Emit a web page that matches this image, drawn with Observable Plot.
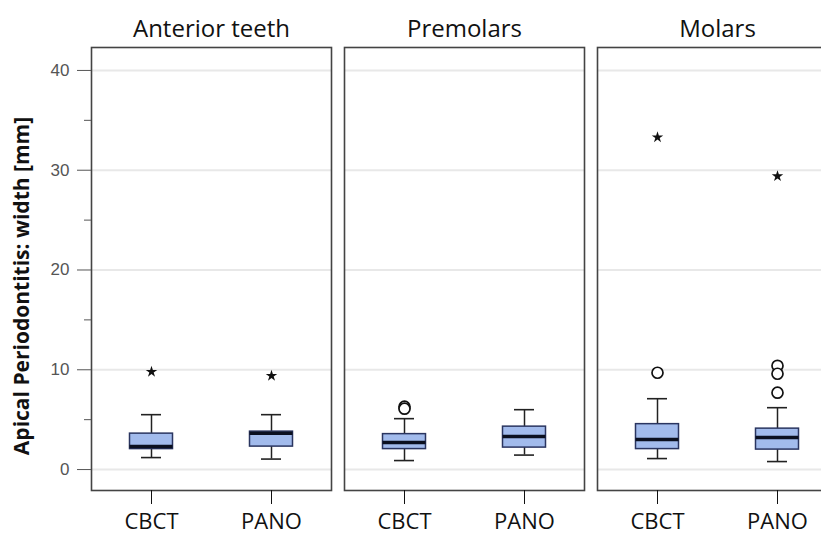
<!DOCTYPE html>
<html>
<head>
<meta charset="utf-8">
<script src="https://cdn.jsdelivr.net/npm/d3@7"></script>
<script src="https://cdn.jsdelivr.net/npm/@observablehq/plot@0.6"></script>
<style>
  html, body { margin: 0; padding: 0; background: #fff; overflow: hidden; }
  #chart { width: 821px; height: 537px; overflow: hidden; }
  #chart svg { max-width: none !important; }
</style>
</head>
<body>
<div id="chart"></div>
<script>
const groups = ["Anterior teeth", "Premolars", "Molars"];
const methods = ["CBCT", "PANO"];

// box statistics, one entry per group × method
const boxGroup  = ["Anterior teeth", "Anterior teeth", "Premolars", "Premolars", "Molars", "Molars"];
const boxMethod = ["CBCT", "PANO", "CBCT", "PANO", "CBCT", "PANO"];
const whiskerLow  = [1.2, 1.05, 0.9, 1.45, 1.1, 0.8];
const q1          = [2.05, 2.3, 2.05, 2.2, 2.05, 2.0];
const median      = [2.3, 3.65, 2.7, 3.3, 3.0, 3.2];
const q3          = [3.6, 3.8, 3.55, 4.3, 4.55, 4.1];
const whiskerHigh = [5.5, 5.5, 5.1, 6.0, 7.1, 6.2];

// outliers (circles) and extreme values (stars)
const circleGroup  = ["Premolars", "Premolars", "Molars", "Molars", "Molars", "Molars"];
const circleMethod = ["CBCT", "CBCT", "CBCT", "PANO", "PANO", "PANO"];
const circleValue  = [6.3, 6.1, 9.7, 10.4, 9.6, 7.7];
const starGroup  = ["Anterior teeth", "Anterior teeth", "Molars", "Molars"];
const starMethod = ["CBCT", "PANO", "CBCT", "PANO"];
const starValue  = [9.8, 9.4, 33.3, 29.4];

const yTicks = [0, 10, 20, 30, 40];
const yMinorTicks = [5, 15, 25, 35];
const yLabel = "Apical Periodontitis: width [mm]";

const boxes = boxGroup.map((g, i) => ({
  group: g, method: boxMethod[i],
  lo: whiskerLow[i], q1: q1[i], med: median[i], q3: q3[i], hi: whiskerHigh[i]
}));
const circles = circleGroup.map((g, i) => ({group: g, method: circleMethod[i], value: circleValue[i]}));
const stars = starGroup.map((g, i) => ({group: g, method: starMethod[i], value: starValue[i]}));

const boxInset = 38.5;
const capInset = 50;
const titleFont = "'Open Sans', 'Noto Sans', sans-serif";

const chart = Plot.plot({
  width: 840,
  height: 537,
  marginLeft: 91,
  marginRight: 3,
  marginTop: 47,
  marginBottom: 47,
  style: {fontFamily: titleFont, background: "white", maxWidth: "none"},
  fx: {domain: groups, paddingInner: 0.0514, paddingOuter: 0},
  x: {domain: methods, padding: 0},
  y: {domain: [-2.1, 42.3]},
  marks: [
    Plot.ruleY(yTicks, {stroke: "#e8e8e8", strokeWidth: 2}),
    Plot.ruleX(boxes, {fx: "group", x: "method", y1: "lo", y2: "q1", stroke: "#222", strokeWidth: 1.5}),
    Plot.ruleX(boxes, {fx: "group", x: "method", y1: "q3", y2: "hi", stroke: "#222", strokeWidth: 1.5}),
    Plot.tickY(boxes, {fx: "group", x: "method", y: "lo", stroke: "#222", strokeWidth: 1.6, insetLeft: capInset, insetRight: capInset}),
    Plot.tickY(boxes, {fx: "group", x: "method", y: "hi", stroke: "#222", strokeWidth: 1.6, insetLeft: capInset, insetRight: capInset}),
    Plot.barY(boxes, {fx: "group", x: "method", y1: "q1", y2: "q3", fill: "#a2bbec", stroke: "#2a3560", strokeWidth: 1.5, insetLeft: boxInset, insetRight: boxInset}),
    Plot.tickY(boxes, {fx: "group", x: "method", y: "med", stroke: "#0b1020", strokeWidth: 3.5, insetLeft: boxInset, insetRight: boxInset}),
    Plot.dot(circles, {fx: "group", x: "method", y: "value", r: 5.5, fill: "white", stroke: "#111", strokeWidth: 1.7}),
    Plot.dot(stars, {fx: "group", x: "method", y: "value", symbol: "star", r: 3.6, fill: "#111", stroke: "none"}),
    Plot.frame({stroke: "#444", strokeWidth: 1.6}),
    Plot.axisY({ticks: yTicks, tickSize: 14, tickPadding: 8, fontSize: 17, color: "#555",
      fontFamily: "'Liberation Sans', Arial, sans-serif", label: null}),
    Plot.axisY({ticks: yMinorTicks, tickSize: 7, tickFormat: () => "", label: null, color: "#555"}),
    Plot.text([yLabel], {fx: () => groups[0], frameAnchor: "left", rotate: -90, dx: -69, dy: 17,
      textAnchor: "middle", lineAnchor: "middle", fontSize: 21, fontWeight: "bold", fill: "#111",
      fontFamily: titleFont}),
    Plot.axisX({tickSize: 14, tickPadding: 9, fontSize: 22, color: "#111", label: null}),
    Plot.axisFx({anchor: "top", tickSize: 0, tickPadding: 11, fontSize: 24, color: "#111", label: null})
  ]
});
document.getElementById("chart").appendChild(chart);
</script>
</body>
</html>
